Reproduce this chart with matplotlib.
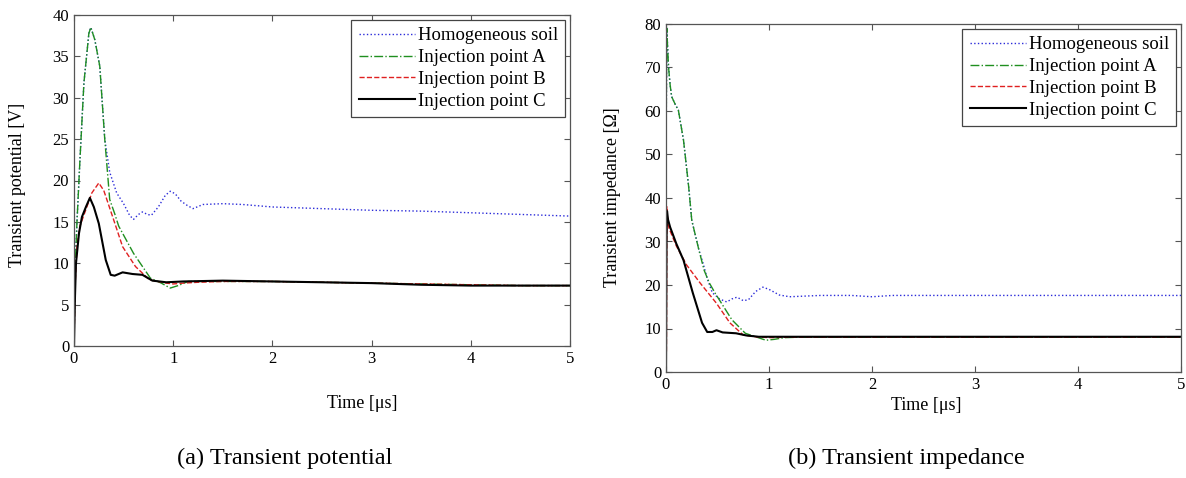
import matplotlib
matplotlib.use("Agg")
import matplotlib.pyplot as plt

plt.rcParams['font.family'] = ['Liberation Serif', 'DejaVu Serif']

# ---- datos: (a) potencial transitorio [V] ----
t_hom_v = [0, 0.01, 0.03, 0.06, 0.10, 0.15, 0.17, 0.21, 0.26, 0.31, 0.36, 0.43, 0.50,
           0.56, 0.60, 0.65, 0.69, 0.74, 0.78, 0.85, 0.92, 0.97, 1.02, 1.08, 1.14, 1.20,
           1.30, 1.50, 1.70, 2.0, 2.5, 3.0, 3.5, 4.0, 4.5, 5.0]
v_hom = [0, 9, 15, 22.5, 31.8, 37.8, 38.5, 37.0, 33.8, 25.0, 21.0, 18.5, 17.2,
         15.8, 15.3, 15.9, 16.2, 15.9, 15.8, 16.8, 18.2, 18.7, 18.4, 17.5, 17.0, 16.6,
         17.1, 17.2, 17.1, 16.8, 16.6, 16.4, 16.3, 16.1, 15.9, 15.7]

t_a_v = [0, 0.01, 0.03, 0.06, 0.10, 0.15, 0.17, 0.21, 0.26, 0.31, 0.36, 0.41, 0.45,
         0.60, 0.77, 0.88, 0.97, 1.05, 1.15, 1.5, 2.0, 2.5, 3.0, 3.5, 4.0, 4.5, 5.0]
v_a = [0, 9, 15, 22.5, 31.8, 37.8, 38.5, 37.0, 33.8, 25.0, 17.7, 16.0, 14.5,
       11.2, 8.2, 7.6, 7.0, 7.3, 7.8, 7.8, 7.8, 7.7, 7.6, 7.5, 7.4, 7.3, 7.3]

t_b_v = [0, 0.01, 0.03, 0.06, 0.12, 0.18, 0.25, 0.30, 0.39, 0.49, 0.62, 0.76, 0.93,
         1.0, 1.1, 1.25, 1.5, 2.0, 2.5, 3.0, 3.5, 4.0, 4.5, 5.0]
v_b = [0, 7, 12, 14.5, 16.5, 18.5, 19.7, 18.8, 15.6, 12.0, 9.6, 8.0, 7.6,
       7.5, 7.6, 7.7, 7.8, 7.8, 7.7, 7.6, 7.5, 7.4, 7.3, 7.3]

t_c_v = [0, 0.01, 0.02, 0.05, 0.08, 0.12, 0.16, 0.20, 0.25, 0.32, 0.37, 0.41, 0.45,
         0.49, 0.54, 0.59, 0.69, 0.79, 0.93, 1.1, 1.5, 2.0, 2.5, 3.0, 3.5, 4.0, 4.5, 5.0]
v_c = [0, 6, 10, 13.6, 15.6, 16.8, 17.9, 16.8, 14.8, 10.4, 8.6, 8.5, 8.7,
       8.9, 8.8, 8.7, 8.6, 7.9, 7.7, 7.8, 7.9, 7.8, 7.7, 7.6, 7.4, 7.3, 7.3, 7.3]

# ---- datos: (b) impedancia transitoria [Ohm] ----
t_hom_z = [0, 0.003, 0.008, 0.015, 0.025, 0.04, 0.055, 0.09, 0.12, 0.17, 0.22, 0.25,
           0.32, 0.36, 0.40, 0.45, 0.52, 0.59, 0.64, 0.69, 0.75, 0.80, 0.87, 0.94,
           1.0, 1.1, 1.2, 1.5, 1.8, 2.0, 2.2, 3.0, 4.0, 5.0]
z_hom = [0, 60, 79, 75, 70, 66, 63.3, 61.5, 60.2, 53.3, 42.6, 34.9,
         28.0, 25.0, 21.5, 18.2, 16.8, 16.1, 16.8, 17.2, 16.4, 16.6, 18.5, 19.5,
         19.0, 17.7, 17.3, 17.6, 17.6, 17.3, 17.6, 17.6, 17.6, 17.6]

t_a_z = [0, 0.003, 0.008, 0.015, 0.025, 0.04, 0.055, 0.09, 0.12, 0.17, 0.22, 0.25,
         0.32, 0.37, 0.42, 0.48, 0.64, 0.77, 0.87, 0.97, 1.05, 1.15, 1.3, 2.0, 3.0, 4.0, 5.0]
z_a = [0, 60, 79, 75, 70, 66, 63.3, 61.5, 60.2, 53.3, 42.6, 34.9,
       28.0, 23.4, 20.5, 18.0, 12.0, 8.9, 8.1, 7.3, 7.5, 7.9, 8.0, 8.0, 8.0, 8.0, 8.0]

t_b_z = [0, 0.004, 0.008, 0.012, 0.02, 0.03, 0.10, 0.20, 0.33, 0.49, 0.62, 0.75,
         0.87, 1.0, 1.2, 2.0, 3.0, 4.0, 5.0]
z_b = [3, 5, 38, 36, 34, 33, 29, 24.6, 20.5, 15.8, 11.3, 8.5,
       8.1, 7.9, 8.0, 8.0, 8.0, 8.0, 8.0]

t_c_z = [0, 0.005, 0.01, 0.02, 0.04, 0.10, 0.17, 0.26, 0.35, 0.40, 0.45, 0.49, 0.55,
         0.68, 0.78, 0.90, 1.2, 2.0, 3.0, 4.0, 5.0]
z_c = [0, 30, 37, 35, 33.3, 29.5, 25.7, 18.2, 11.3, 9.2, 9.2, 9.6, 9.1,
       8.9, 8.4, 8.1, 8.1, 8.1, 8.1, 8.1, 8.1]

etiquetas = ['Homogeneous soil', 'Injection point A', 'Injection point B', 'Injection point C']
estilos = [(':', '#2b2bd9', 1.0), ('-.', '#1f8f1f', 1.0), ('--', '#e02020', 1.0), ('-', 'black', 1.5)]

W, H = 1186, 478


def dibujar(ax, series, ymax, ystep):
    for (t, y), (ls, c, lw), lab in zip(series, estilos, etiquetas):
        ax.plot(t, y, linestyle=ls, color=c, linewidth=lw, label=lab)
    ax.set_xlim(0, 5)
    ax.set_ylim(0, ymax)
    ax.set_xticks(range(0, 6))
    ax.set_yticks(range(0, ymax + 1, ystep))
    ax.tick_params(direction='in', top=True, right=True, labelsize=12, length=4, color='#555555')
    for s in ax.spines.values():
        s.set_color('#555555')
        s.set_linewidth(0.9)
    leg = ax.legend(loc='upper right', fontsize=13.5, fancybox=False, edgecolor='#444444',
                    framealpha=1, borderaxespad=0.25, handlelength=3.0, handletextpad=0.15,
                    labelspacing=0.25, borderpad=0.4)
    leg.get_frame().set_linewidth(0.9)


fig = plt.figure(figsize=(11.86, 4.78), dpi=100)
ax1 = fig.add_axes([74 / W, 1 - 346 / H, 496 / W, 331 / H])
ax2 = fig.add_axes([666 / W, 1 - 372 / H, 515 / W, 348 / H])

dibujar(ax1, [(t_hom_v, v_hom), (t_a_v, v_a), (t_b_v, v_b), (t_c_v, v_c)], 40, 5)
dibujar(ax2, [(t_hom_z, z_hom), (t_a_z, z_a), (t_b_z, z_b), (t_c_z, z_c)], 80, 10)

# Etiquetas de ejes colocadas como en la figura original
fig.text(18 / W, 1 - 185 / H, 'Transient potential [V]', rotation=90, ha='center', va='center', fontsize=13)
fig.text(612 / W, 1 - 197 / H, 'Transient impedance [Ω]', rotation=90, ha='center', va='center', fontsize=13)
fig.text(362 / W, 1 - 404 / H, 'Time [μs]', ha='center', va='center', fontsize=13)
fig.text(926 / W, 1 - 406 / H, 'Time [μs]', ha='center', va='center', fontsize=13)

fig.text(285 / W, 1 - 458 / H, '(a) Transient potential', ha='center', va='center', fontsize=17.5)
fig.text(906 / W, 1 - 458 / H, '(b) Transient impedance', ha='center', va='center', fontsize=17.5)

fig.savefig('out.png', dpi=100)
